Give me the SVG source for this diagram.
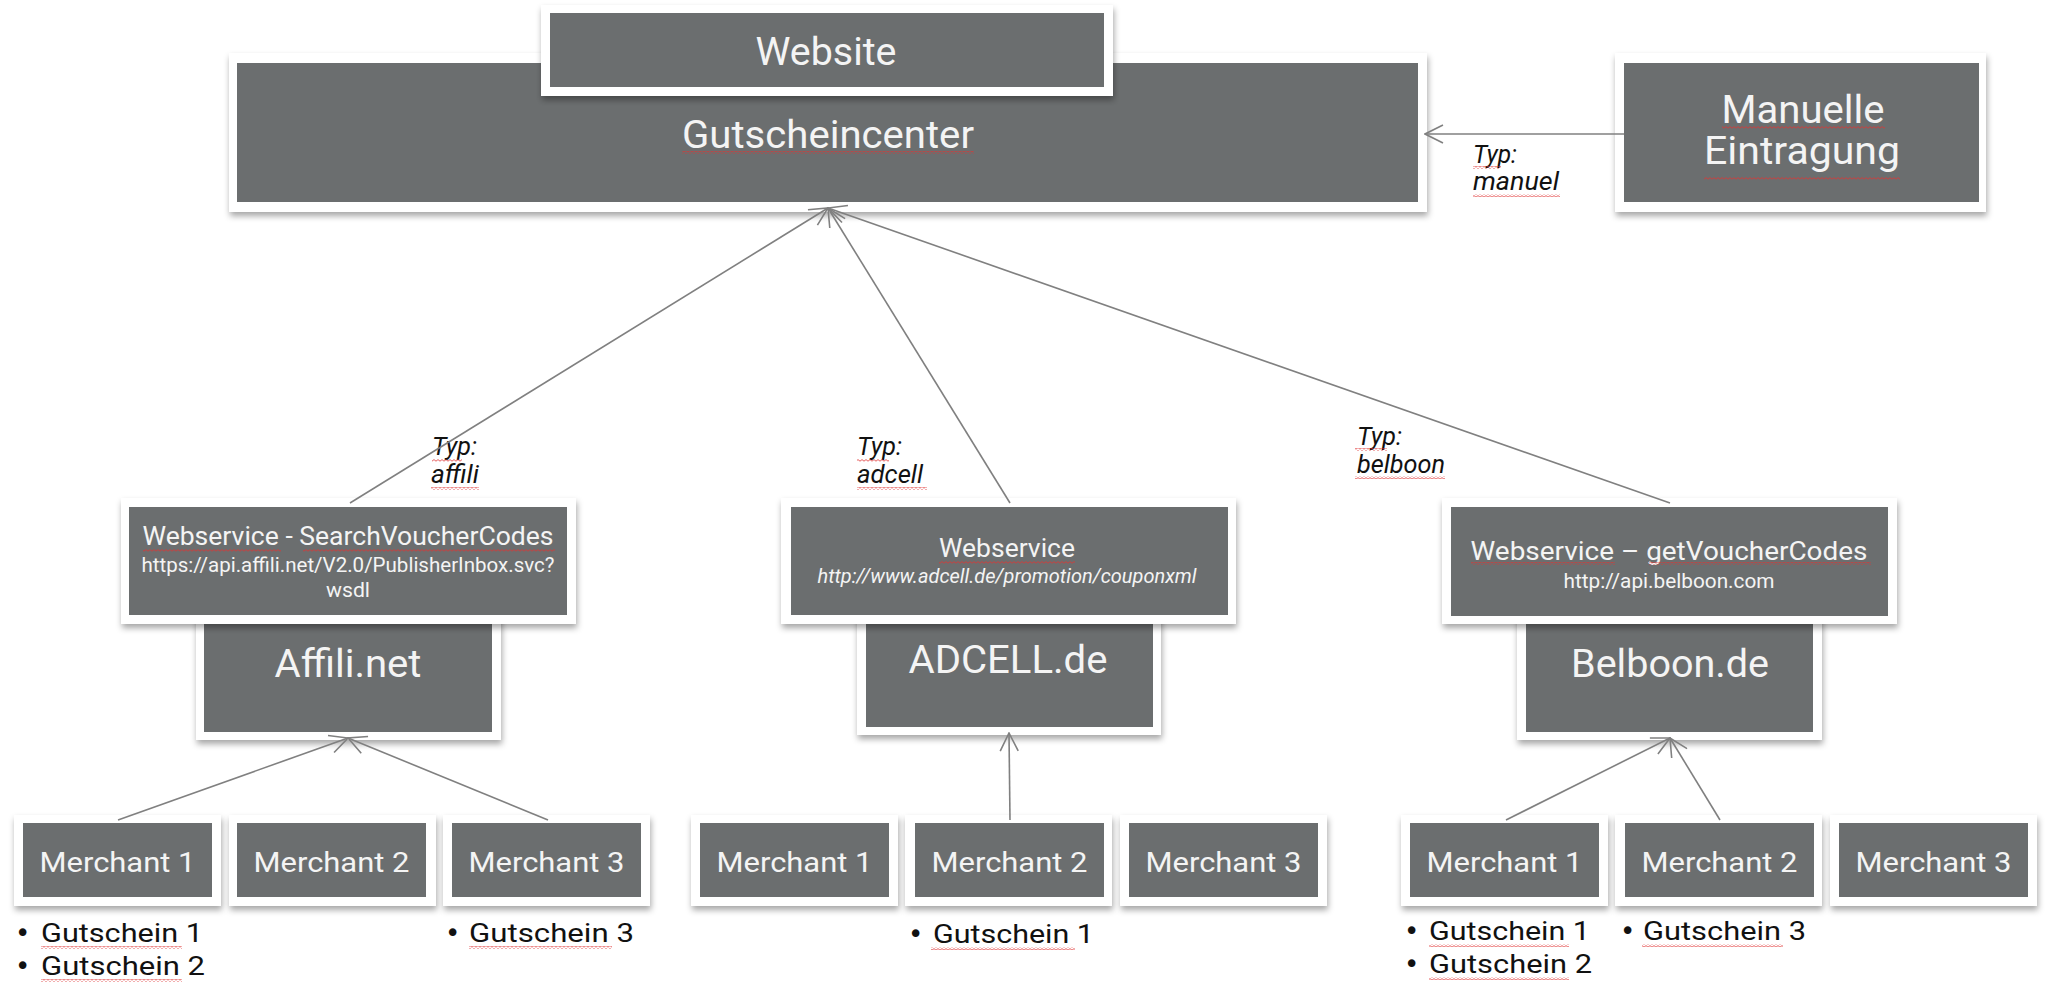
<svg xmlns="http://www.w3.org/2000/svg" width="2047" height="983" viewBox="0 0 2047 983">
<defs>
<style>
.frame{fill:#ffffff;filter:url(#sh)}
.box{fill:#6b6e6f}
.wt{fill:#f4f4f4;font-family:Roboto,"DejaVu Sans Condensed","Liberation Sans",sans-serif;text-anchor:middle}
.lbl{fill:#111;font-family:Roboto,"DejaVu Sans Condensed","Liberation Sans",sans-serif;font-style:italic;font-size:25px}
.bul{fill:#111;font-family:Roboto,"DejaVu Sans Condensed","Liberation Sans",sans-serif;font-size:26px}
.dot{fill:#111;font-family:"DejaVu Sans",sans-serif;font-size:26px}
.con{stroke:#808080;stroke-width:1.6;fill:none;marker-end:url(#arr)}
.wv{fill:url(#wavy)}
</style>
<filter id="sh" x="-10%" y="-10%" width="120%" height="130%">
<feDropShadow dx="1" dy="4" stdDeviation="3" flood-color="#000" flood-opacity="0.35"/>
</filter>
<pattern id="wavy" width="4" height="3" patternUnits="userSpaceOnUse">
<path d="M0,2.2 L2,0.6 L4,2.2" stroke="#e03434" stroke-width="0.8" fill="none"/>
</pattern>
<marker id="arr" viewBox="0 0 20 20" refX="19" refY="10" markerWidth="20" markerHeight="20" markerUnits="userSpaceOnUse" orient="auto">
<path d="M1,1 L19,10 L1,19" fill="none" stroke="#808080" stroke-width="1.6"/>
</marker>
</defs>
<rect width="2047" height="983" fill="#ffffff"/>

<g id="gutscheincenter">
<rect class="frame" x="229" y="53" width="1198" height="159"/>
<rect class="box" x="237" y="63" width="1181" height="139"/>
<text class="wt" x="828" y="148" font-size="38" textLength="292" lengthAdjust="spacingAndGlyphs">Gutscheincenter</text>
<rect class="wv" x="682" y="151" width="292" height="3"/>
</g>

<g id="website">
<rect class="frame" x="541" y="5" width="572" height="91"/>
<rect class="box" x="550" y="13" width="554" height="74"/>
<text class="wt" x="826" y="65" font-size="38" textLength="141" lengthAdjust="spacingAndGlyphs">Website</text>
</g>

<g id="manuelle">
<rect class="frame" x="1615" y="53" width="371" height="159"/>
<rect class="box" x="1624" y="63" width="355" height="139"/>
<text class="wt" x="1803" y="123" font-size="38" textLength="163" lengthAdjust="spacingAndGlyphs">Manuelle</text>
<text class="wt" x="1802" y="164" font-size="38" textLength="196" lengthAdjust="spacingAndGlyphs">Eintragung</text>
<rect class="wv" x="1722" y="126" width="163" height="3"/>
<rect class="wv" x="1704" y="177" width="196" height="3"/>
</g>

<g id="affili">
<rect class="frame" x="196" y="600" width="305" height="140"/>
<rect class="box" x="204" y="610" width="288" height="122"/>
<text class="wt" x="348" y="677" font-size="38" textLength="147" lengthAdjust="spacingAndGlyphs">Affili.net</text>
</g>
<g id="ws-affili">
<rect class="frame" x="121" y="498" width="455" height="126"/>
<rect class="box" x="129" y="507" width="438" height="108"/>
<text class="wt" x="348" y="545" font-size="26" textLength="411" lengthAdjust="spacingAndGlyphs">Webservice - SearchVoucherCodes</text>
<text class="wt" x="348" y="572" font-size="21" textLength="413" lengthAdjust="spacingAndGlyphs">https://api.affili.net/V2.0/PublisherInbox.svc?</text>
<text class="wt" x="348" y="597" font-size="21" textLength="44" lengthAdjust="spacingAndGlyphs">wsdl</text>
<rect class="wv" x="143" y="549" width="138" height="3"/>
<rect class="wv" x="303" y="549" width="252" height="3"/>
</g>

<g id="adcell">
<rect class="frame" x="857" y="600" width="304" height="135"/>
<rect class="box" x="866" y="610" width="287" height="117"/>
<text class="wt" x="1008" y="673" font-size="38" textLength="199" lengthAdjust="spacingAndGlyphs">ADCELL.de</text>
</g>
<g id="ws-adcell">
<rect class="frame" x="781" y="498" width="455" height="126"/>
<rect class="box" x="791" y="507" width="437" height="108"/>
<text class="wt" x="1007" y="557" font-size="26" textLength="136" lengthAdjust="spacingAndGlyphs">Webservice</text>
<text class="wt" x="1007" y="583" font-size="21" font-style="italic" textLength="379" lengthAdjust="spacingAndGlyphs">http://www.adcell.de/promotion/couponxml</text>
<rect class="wv" x="939" y="561" width="136" height="3"/>
</g>

<g id="belboon">
<rect class="frame" x="1517" y="600" width="305" height="140"/>
<rect class="box" x="1526" y="610" width="287" height="122"/>
<text class="wt" x="1670" y="677" font-size="38" textLength="198" lengthAdjust="spacingAndGlyphs">Belboon.de</text>
</g>
<g id="ws-belboon">
<rect class="frame" x="1442" y="498" width="455" height="126"/>
<rect class="box" x="1451" y="507" width="437" height="109"/>
<text class="wt" x="1669" y="560" font-size="26" textLength="397" lengthAdjust="spacingAndGlyphs">Webservice  – getVoucherCodes</text>
<text class="wt" x="1669" y="588" font-size="21" textLength="211" lengthAdjust="spacingAndGlyphs">http://api.belboon.com</text>
<rect class="wv" x="1471" y="562" width="144" height="3"/>
<rect class="wv" x="1649" y="562" width="222" height="3"/>
</g>

<g id="m-a1"><rect class="frame" x="14" y="815" width="207" height="91"/><rect class="box" x="23" y="823" width="189" height="74"/><text class="wt" x="117.5" y="872" font-size="28" textLength="156" lengthAdjust="spacingAndGlyphs">Merchant 1</text></g>
<g id="m-a2"><rect class="frame" x="229" y="815" width="207" height="91"/><rect class="box" x="237" y="823" width="189" height="74"/><text class="wt" x="331.5" y="872" font-size="28" textLength="156" lengthAdjust="spacingAndGlyphs">Merchant 2</text></g>
<g id="m-a3"><rect class="frame" x="443" y="815" width="207" height="91"/><rect class="box" x="452" y="823" width="189" height="74"/><text class="wt" x="546.5" y="872" font-size="28" textLength="156" lengthAdjust="spacingAndGlyphs">Merchant 3</text></g>
<g id="m-b1"><rect class="frame" x="691" y="815" width="207" height="91"/><rect class="box" x="700" y="823" width="189" height="74"/><text class="wt" x="794.5" y="872" font-size="28" textLength="156" lengthAdjust="spacingAndGlyphs">Merchant 1</text></g>
<g id="m-b2"><rect class="frame" x="905" y="815" width="207" height="91"/><rect class="box" x="915" y="823" width="189" height="74"/><text class="wt" x="1009.5" y="872" font-size="28" textLength="156" lengthAdjust="spacingAndGlyphs">Merchant 2</text></g>
<g id="m-b3"><rect class="frame" x="1120" y="815" width="207" height="91"/><rect class="box" x="1129" y="823" width="189" height="74"/><text class="wt" x="1223.5" y="872" font-size="28" textLength="156" lengthAdjust="spacingAndGlyphs">Merchant 3</text></g>
<g id="m-c1"><rect class="frame" x="1401" y="815" width="207" height="91"/><rect class="box" x="1410" y="823" width="189" height="74"/><text class="wt" x="1504.5" y="872" font-size="28" textLength="156" lengthAdjust="spacingAndGlyphs">Merchant 1</text></g>
<g id="m-c2"><rect class="frame" x="1615" y="815" width="207" height="91"/><rect class="box" x="1625" y="823" width="189" height="74"/><text class="wt" x="1719.5" y="872" font-size="28" textLength="156" lengthAdjust="spacingAndGlyphs">Merchant 2</text></g>
<g id="m-c3"><rect class="frame" x="1830" y="815" width="207" height="91"/><rect class="box" x="1839" y="823" width="189" height="74"/><text class="wt" x="1933.5" y="872" font-size="28" textLength="156" lengthAdjust="spacingAndGlyphs">Merchant 3</text></g>

<g id="vouchers">
<text class="dot" x="15" y="942">•</text><text class="bul" x="41" y="942" textLength="162" lengthAdjust="spacingAndGlyphs">Gutschein 1</text>
<text class="dot" x="15" y="975">•</text><text class="bul" x="41" y="975" textLength="164" lengthAdjust="spacingAndGlyphs">Gutschein 2</text>
<text class="dot" x="445" y="942">•</text><text class="bul" x="469" y="942" textLength="165" lengthAdjust="spacingAndGlyphs">Gutschein 3</text>
<text class="dot" x="908" y="943">•</text><text class="bul" x="933" y="943" textLength="161" lengthAdjust="spacingAndGlyphs">Gutschein 1</text>
<text class="dot" x="1404" y="940">•</text><text class="bul" x="1429" y="940" textLength="161" lengthAdjust="spacingAndGlyphs">Gutschein 1</text>
<text class="dot" x="1404" y="973">•</text><text class="bul" x="1429" y="973" textLength="163" lengthAdjust="spacingAndGlyphs">Gutschein 2</text>
<text class="dot" x="1620" y="940">•</text><text class="bul" x="1643" y="940" textLength="163" lengthAdjust="spacingAndGlyphs">Gutschein 3</text>
<rect class="wv" x="41" y="946" width="141" height="3"/>
<rect class="wv" x="41" y="979" width="141" height="3"/>
<rect class="wv" x="469" y="946" width="143" height="3"/>
<rect class="wv" x="931" y="947" width="144" height="3"/>
<rect class="wv" x="1429" y="944" width="140" height="3"/>
<rect class="wv" x="1429" y="977" width="140" height="3"/>
<rect class="wv" x="1642" y="944" width="141" height="3"/>
</g>

<g id="labels">
<text class="lbl" x="1473" y="163" textLength="44" lengthAdjust="spacingAndGlyphs">Typ:</text>
<text class="lbl" x="1473" y="190" textLength="86" lengthAdjust="spacingAndGlyphs">manuel</text>
<text class="lbl" x="432" y="455" textLength="45" lengthAdjust="spacingAndGlyphs">Typ:</text>
<text class="lbl" x="431" y="483" textLength="48" lengthAdjust="spacingAndGlyphs">affili</text>
<text class="lbl" x="857" y="455" textLength="45" lengthAdjust="spacingAndGlyphs">Typ:</text>
<text class="lbl" x="857" y="483" textLength="66" lengthAdjust="spacingAndGlyphs">adcell</text>
<text class="lbl" x="1357" y="445" textLength="45" lengthAdjust="spacingAndGlyphs">Typ:</text>
<text class="lbl" x="1357" y="473" textLength="88" lengthAdjust="spacingAndGlyphs">belboon</text>
<rect class="wv" x="1473" y="166" width="28" height="3"/>
<rect class="wv" x="1473" y="194" width="87" height="3"/>
<rect class="wv" x="432" y="459" width="30" height="3"/>
<rect class="wv" x="431" y="487" width="48" height="3"/>
<rect class="wv" x="857" y="459" width="32" height="3"/>
<rect class="wv" x="857" y="487" width="70" height="3"/>
<rect class="wv" x="1355" y="448" width="32" height="3"/>
<rect class="wv" x="1355" y="476" width="90" height="3"/>
</g>

<g id="connectors">
<line class="con" x1="1624" y1="134" x2="1425" y2="134"/>
<line class="con" x1="350" y1="503" x2="828" y2="208"/>
<line class="con" x1="1010" y1="503" x2="828" y2="208"/>
<line class="con" x1="1670" y1="503" x2="828" y2="208"/>
<line class="con" x1="118" y1="820" x2="348" y2="738"/>
<line class="con" x1="548" y1="820" x2="348" y2="738"/>
<line class="con" x1="1010" y1="820" x2="1009" y2="733"/>
<line class="con" x1="1506" y1="820" x2="1670" y2="738"/>
<line class="con" x1="1720" y1="820" x2="1670" y2="738"/>
</g>
</svg>
